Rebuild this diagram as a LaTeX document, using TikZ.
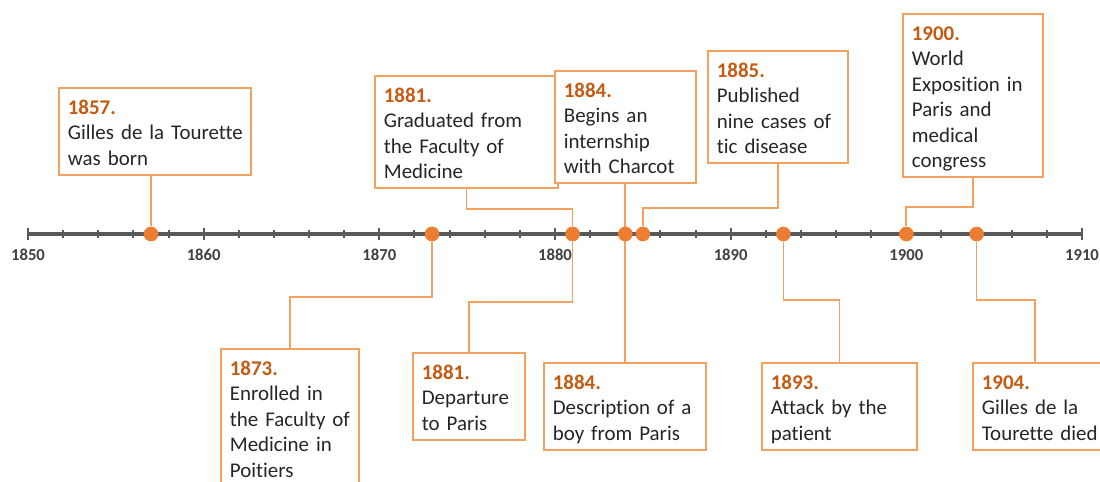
\documentclass[tikz,border=0pt]{standalone}
\usepackage{fontspec}
\setmainfont{Carlito}[Ligatures=NoCommon]
\usetikzlibrary{backgrounds,calc}
\definecolor{boxor}{HTML}{F4A160}
\definecolor{lineor}{HTML}{F4A160}
\definecolor{dotor}{HTML}{ED7D31}
\definecolor{yearor}{HTML}{C55A11}
\definecolor{axisg}{HTML}{595959}
\definecolor{lblg}{HTML}{404040}
\definecolor{txtc}{HTML}{262626}
\newcommand\yrl[1]{\mbox{\bfseries\color{yearor}#1}}
\newcommand\evl[1]{\mbox{#1}}
\begin{document}
\begin{tikzpicture}[x=0.75pt,y=-0.75pt,
  evbox/.style={draw=boxor, line width=1.3pt, fill=white, anchor=north west,
    inner xsep=6.75pt, inner ysep=0pt, text width=#1, align=left, text=txtc,
    font=\fontsize{15.7}{19.1}\selectfont,
    execute at begin node={\rule{0pt}{19.8pt}},
    execute at end node={\rule[-7.2pt]{0pt}{0pt}}},
  dotnode/.style={circle, fill=dotor, inner sep=0pt, minimum size=11pt},
  conn/.style={draw=lineor, line width=1.3pt},
  axisline/.style={draw=axisg, line width=2.3pt},
  tickmark/.style={draw=axisg, line width=1.5pt},
  yearlbl/.style={text=lblg, font=\fontsize{12.5}{14}\selectfont\bfseries},
  declare function={yx(\t)=28+(\t-1850)*17.567;}
]
\useasboundingbox (0,0) rectangle (1100,482);
\clip (0,0) rectangle (1100,482);

% event boxes
\node[evbox=130.5pt] (b57) at (58,87) {\yrl{1857.}\\\evl{Gilles de la Tourette}\\\evl{was born}};
\node[evbox=123.75pt] (b81t) at (374,75) {\yrl{1881.}\\\evl{Graduated from}\\\evl{the Faculty of}\\\evl{Medicine}};
\node[evbox=92.25pt] (b84t) at (554,70) {\yrl{1884.}\\\evl{Begins an}\\\evl{internship}\\\evl{with Charcot}};
\node[evbox=91.5pt] (b85) at (707,50) {\yrl{1885.}\\\evl{Published}\\\evl{nine cases of}\\\evl{tic disease}};
\node[evbox=91.5pt] (b00) at (902,13) {\yrl{1900.}\\\evl{World}\\\evl{Exposition in}\\\evl{Paris and}\\\evl{medical}\\\evl{congress}};
\node[evbox=90pt] (b73) at (220,348) {\yrl{1873.}\\\evl{Enrolled in}\\\evl{the Faculty of}\\\evl{Medicine in}\\\evl{Poitiers}};
\node[evbox=70.5pt] (b81b) at (412,352) {\yrl{1881.}\\\evl{Departure}\\\evl{to Paris}};
\node[evbox=108pt] (b84b) at (543,362) {\yrl{1884.}\\\evl{Description of a}\\\evl{boy from Paris}};
\node[evbox=102.75pt] (b93) at (761,362) {\yrl{1893.}\\\evl{Attack by the}\\\evl{patient}};
\node[evbox=91.5pt] (b04) at (972,362) {\yrl{1904.}\\\evl{Gilles de la}\\\evl{Tourette died}};

% dots
\foreach \n/\t in {57/1857,73/1873,81/1881,84/1884,85/1885,93/1893,00/1900,04/1904}
  \node[dotnode] (d\n) at ({yx(\t)},234) {};

\begin{pgfonlayer}{background}
  % axis
  \path[axisline] ({yx(1850)},234) -- ({yx(1910)},234);
  \foreach \t in {1852,1854,...,1908}
    \path[tickmark] ({yx(\t)},230) -- ({yx(\t)},238);
  \foreach \t in {1850,1860,...,1910} {
    \path[tickmark] ({yx(\t)},228) -- ({yx(\t)},240);
    \node[yearlbl] at ({yx(\t)},255) {\t};
  }
  % connectors
  \path[conn] (d57 |- b57.south) -- (d57);
  \path[conn] (b81t.south) -- (b81t.south |- 0,209) -| (d81);
  \path[conn] (d84 |- b84t.south) -- (d84 |- b84b.north);
  \path[conn] (b85.south) -- (b85.south |- 0,208) -| (d85);
  \path[conn] (b00.south) -- (b00.south |- 0,207) -| (d00);
  \path[conn] (d73) -- (d73 |- 0,297) -| (b73.north);
  \path[conn] (d81) -- (d81 |- 0,302) -| (b81b.north);
  \path[conn] (d93) -- (d93 |- 0,300) -| (b93.north);
  \path[conn] (d04) -- (d04 |- 0,300) -| ($(b04.north west)+(63,0)$);
\end{pgfonlayer}
\end{tikzpicture}
\end{document}
